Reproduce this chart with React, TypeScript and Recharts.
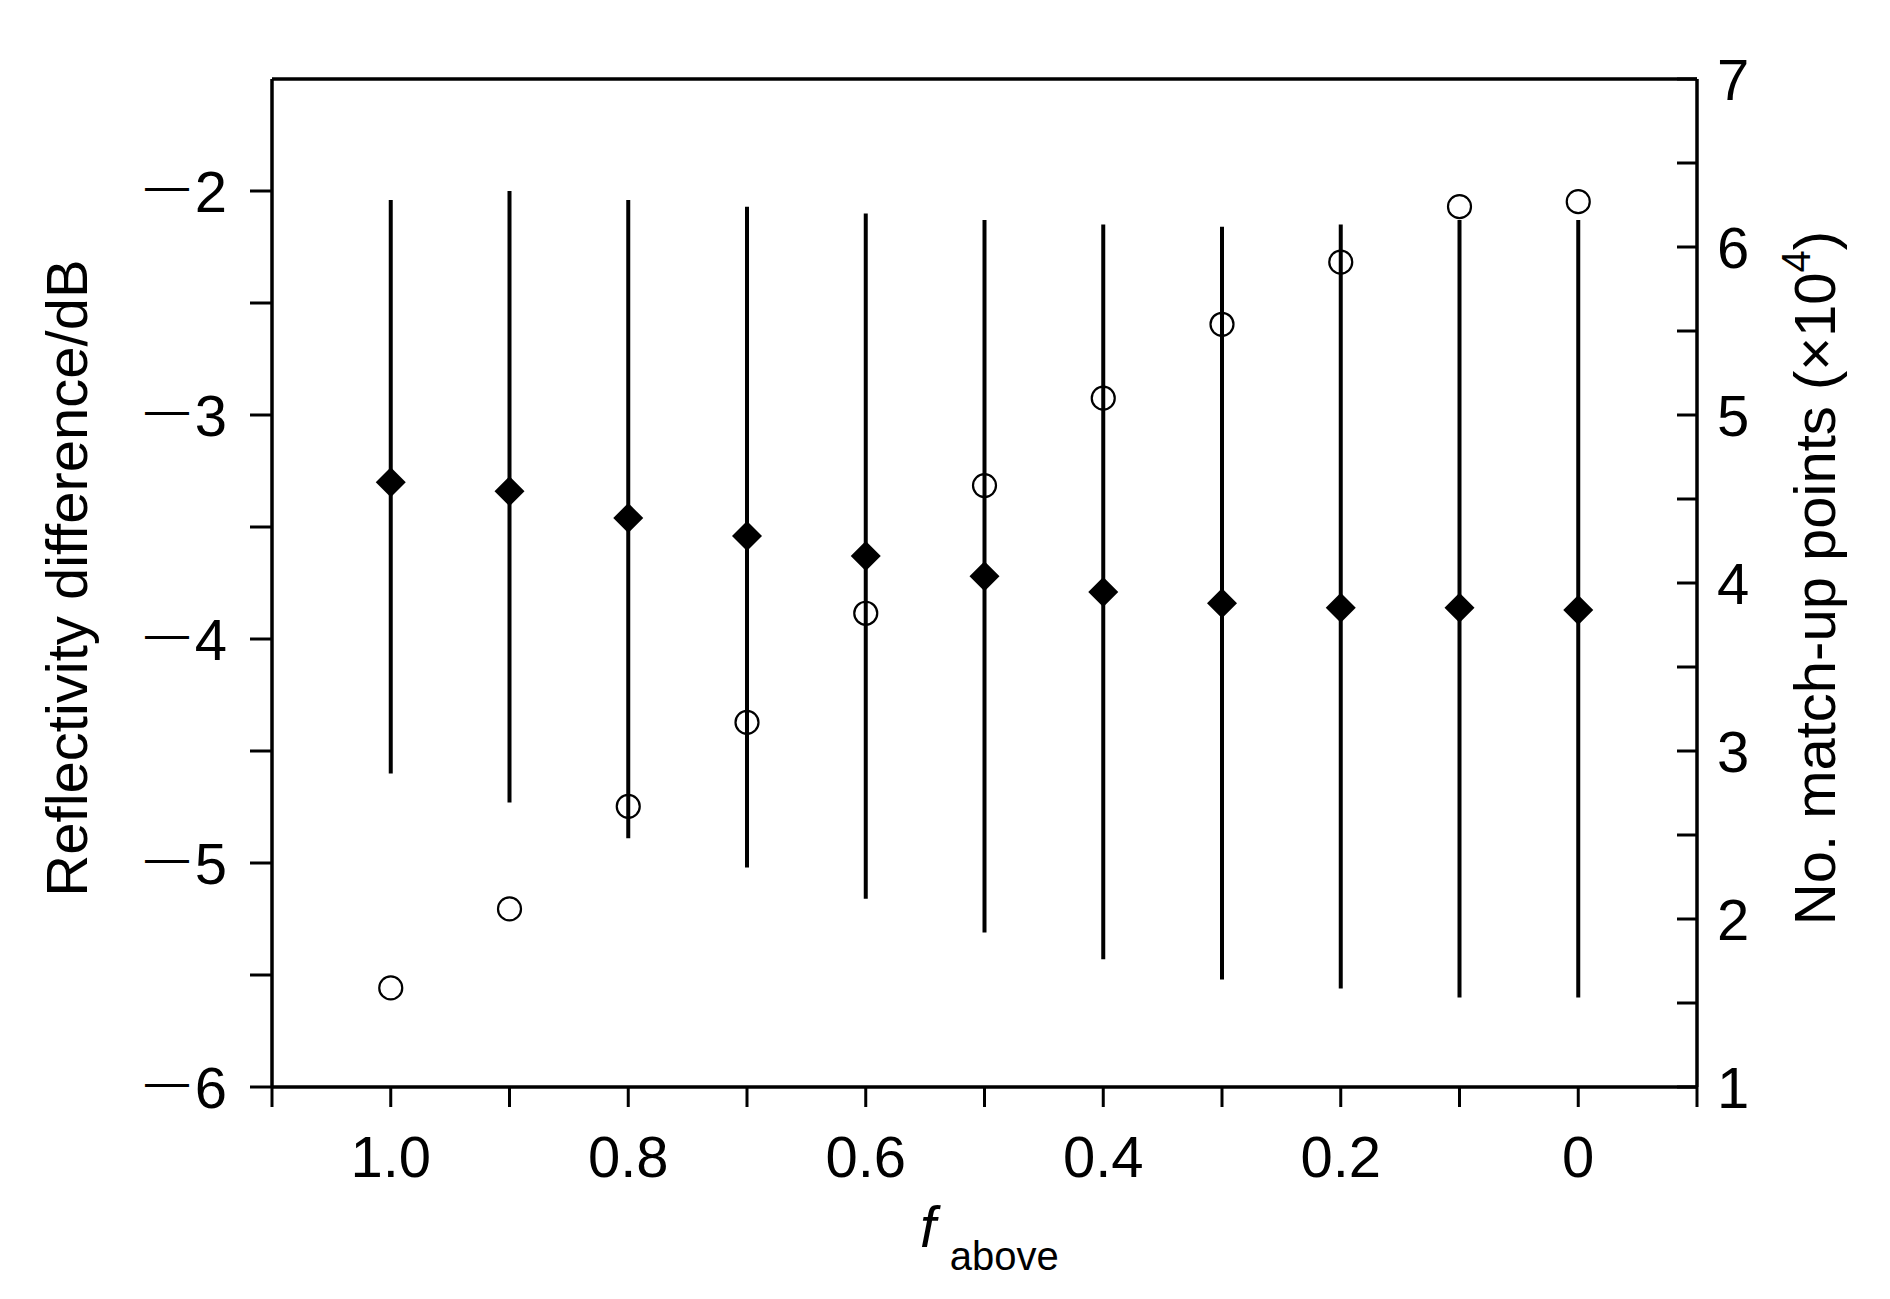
import React from "react";
import { ComposedChart, Scatter, XAxis, YAxis, ErrorBar, ReferenceLine, Label } from "recharts";

// ---- data ----
const fAbove = [1.0, 0.9, 0.8, 0.7, 0.6, 0.5, 0.4, 0.3, 0.2, 0.1, 0];
const meanDiff = [-3.30, -3.34, -3.46, -3.54, -3.63, -3.72, -3.79, -3.84, -3.86, -3.86, -3.87];
const diffUpper = [-2.04, -2.00, -2.04, -2.07, -2.10, -2.13, -2.15, -2.16, -2.15, -2.13, -2.13];
const diffLower = [-4.60, -4.73, -4.89, -5.02, -5.16, -5.31, -5.43, -5.52, -5.56, -5.60, -5.60];
const matchUps = [1.59, 2.06, 2.67, 3.17, 3.82, 4.58, 5.10, 5.54, 5.91, 6.24, 6.27];

const xTicks = [1.1, 1.0, 0.9, 0.8, 0.7, 0.6, 0.5, 0.4, 0.3, 0.2, 0.1, 0, -0.1];
const xTickLabels = ["", "1.0", "", "0.8", "", "0.6", "", "0.4", "", "0.2", "", "0", ""];
const leftTicks = [-6, -5.5, -5, -4.5, -4, -3.5, -3, -2.5, -2];
const leftTickLabels = ["−6", "", "−5", "", "−4", "", "−3", "", "−2"];
const rightTicks = [1, 1.5, 2, 2.5, 3, 3.5, 4, 4.5, 5, 5.5, 6, 6.5, 7];
const rightTickLabels = ["1", "", "2", "", "3", "", "4", "", "5", "", "6", "", "7"];

const xTitle = "f";
const xTitleSub = "above";
const leftTitle = "Reflectivity difference/dB";
const rightTitle = "No. match-up points (×10";
const rightTitleSup = "4";

const diffData = fAbove.map((f, i) => ({
  f,
  diff: meanDiff[i],
  err: [meanDiff[i] - diffLower[i], diffUpper[i] - meanDiff[i]],
}));
const countData = fAbove.map((f, i) => ({ f, count: matchUps[i] }));

// ---- layout ----
const W = 1874;
const H = 1283;
const PL = 264;
const PR = 1689;
const PT = 71;
const PB = 1079;
const FONT = "'Liberation Sans', Arial, sans-serif";
const AXW = 3.5;

const findLabel = (ticks: number[], labels: string[], v: number) => {
  const i = ticks.findIndex((t) => Math.abs(t - v) < 1e-6);
  return i >= 0 ? labels[i] : "";
};

const XTick = (props: any) => {
  const { x, y, payload } = props;
  const label = findLabel(xTicks, xTickLabels, payload.value);
  return (
    <g>
      <line x1={x} x2={x} y1={y} y2={y + 20} stroke="#000" strokeWidth={3} />
      {label ? (
        <text x={x} y={y + 90} textAnchor="middle" fontSize={58} fontFamily={FONT} fill="#000">
          {label}
        </text>
      ) : null}
    </g>
  );
};

const LeftTick = (props: any) => {
  const { x, y, payload } = props;
  const label = findLabel(leftTicks, leftTickLabels, payload.value);
  return (
    <g>
      <line x1={x} x2={x - 22} y1={y} y2={y} stroke="#000" strokeWidth={3} />
      {label ? (
        <text fontFamily={FONT} fill="#000">
          <tspan x={x - 127} y={y + 10} fontSize={44}>
            —
          </tspan>
          <tspan x={x - 45} y={y + 21} fontSize={58} textAnchor="end">
            {label.slice(1)}
          </tspan>
        </text>
      ) : null}
    </g>
  );
};

const RightTick = (props: any) => {
  const { x, y, payload } = props;
  const label = findLabel(rightTicks, rightTickLabels, payload.value);
  return (
    <g>
      <line x1={x} x2={x - 20} y1={y} y2={y} stroke="#000" strokeWidth={3} />
      {label ? (
        <text x={x + 20} y={y + 21} fontSize={58} fontFamily={FONT} fill="#000">
          {label}
        </text>
      ) : null}
    </g>
  );
};

const Diamond = (props: any) => {
  const { cx, cy } = props;
  if (cx == null || cy == null) return null;
  const h = 15;
  return <path d={`M${cx},${cy - h}L${cx + h},${cy}L${cx},${cy + h}L${cx - h},${cy}Z`} fill="#000" />;
};

const Ring = (props: any) => {
  const { cx, cy } = props;
  if (cx == null || cy == null) return null;
  return <circle cx={cx} cy={cy} r={11.5} fill="none" stroke="#000" strokeWidth={2.2} />;
};

const XTitle = () => (
  <text x={912} y={1239} fontFamily={FONT} fill="#000">
    <tspan fontStyle="italic" fontSize={57}>
      {xTitle}
    </tspan>
    <tspan fontSize={40} dx={14} dy={23}>
      {xTitleSub}
    </tspan>
  </text>
);

const LeftTitle = () => (
  <text
    x={79}
    y={570}
    transform="rotate(-90 79 570)"
    textAnchor="middle"
    fontSize={58}
    fontFamily={FONT}
    fill="#000"
  >
    {leftTitle}
  </text>
);

const RightTitle = () => (
  <text
    x={1827}
    y={570}
    transform="rotate(-90 1827 570)"
    textAnchor="middle"
    fontSize={58}
    fontFamily={FONT}
    fill="#000"
  >
    {rightTitle}
    <tspan fontSize={40} dy={-25}>
      {rightTitleSup}
    </tspan>
    <tspan dy={25}>)</tspan>
  </text>
);

export default function App() {
  return (
    <div style={{ width: W, height: H, background: "#fff" }}>
      <ComposedChart width={W} height={H} margin={{ top: PT, right: 0, bottom: 0, left: 0 }}>
        <XAxis
          dataKey="f"
          type="number"
          domain={[-0.1, 1.1]}
          reversed
          ticks={xTicks}
          interval={0}
          tick={<XTick />}
          tickLine={false}
          tickSize={0}
          tickMargin={0}
          height={H - PB}
          axisLine={{ stroke: "#000", strokeWidth: AXW }}
          allowDataOverflow
        >
          <Label content={() => <XTitle />} />
        </XAxis>
        <YAxis
          yAxisId="left"
          dataKey="diff"
          type="number"
          orientation="left"
          domain={[-6, -1.5]}
          ticks={leftTicks}
          interval={0}
          tick={<LeftTick />}
          tickLine={false}
          tickSize={0}
          tickMargin={0}
          width={PL}
          axisLine={{ stroke: "#000", strokeWidth: AXW }}
          allowDataOverflow
        >
          <Label content={() => <LeftTitle />} />
        </YAxis>
        <YAxis
          yAxisId="right"
          dataKey="count"
          type="number"
          orientation="right"
          domain={[1, 7]}
          ticks={rightTicks}
          interval={0}
          tick={<RightTick />}
          tickLine={false}
          tickSize={0}
          tickMargin={0}
          width={W - PR}
          axisLine={{ stroke: "#000", strokeWidth: AXW }}
          allowDataOverflow
        >
          <Label content={() => <RightTitle />} />
        </YAxis>
        <ReferenceLine yAxisId="left" y={-1.5} stroke="#000" strokeWidth={AXW} ifOverflow="visible" />
        <Scatter
          yAxisId="left"
          data={diffData}
          shape={<Diamond />}
          isAnimationActive={false}
        >
          <ErrorBar
            dataKey="err"
            direction="y"
            width={0}
            stroke="#000"
            strokeWidth={4}
            style={{ strokeWidth: 4 }}
            isAnimationActive={false}
          />
        </Scatter>
        <Scatter
          yAxisId="right"
          data={countData}
          shape={<Ring />}
          isAnimationActive={false}
        />
      </ComposedChart>
    </div>
  );
}
